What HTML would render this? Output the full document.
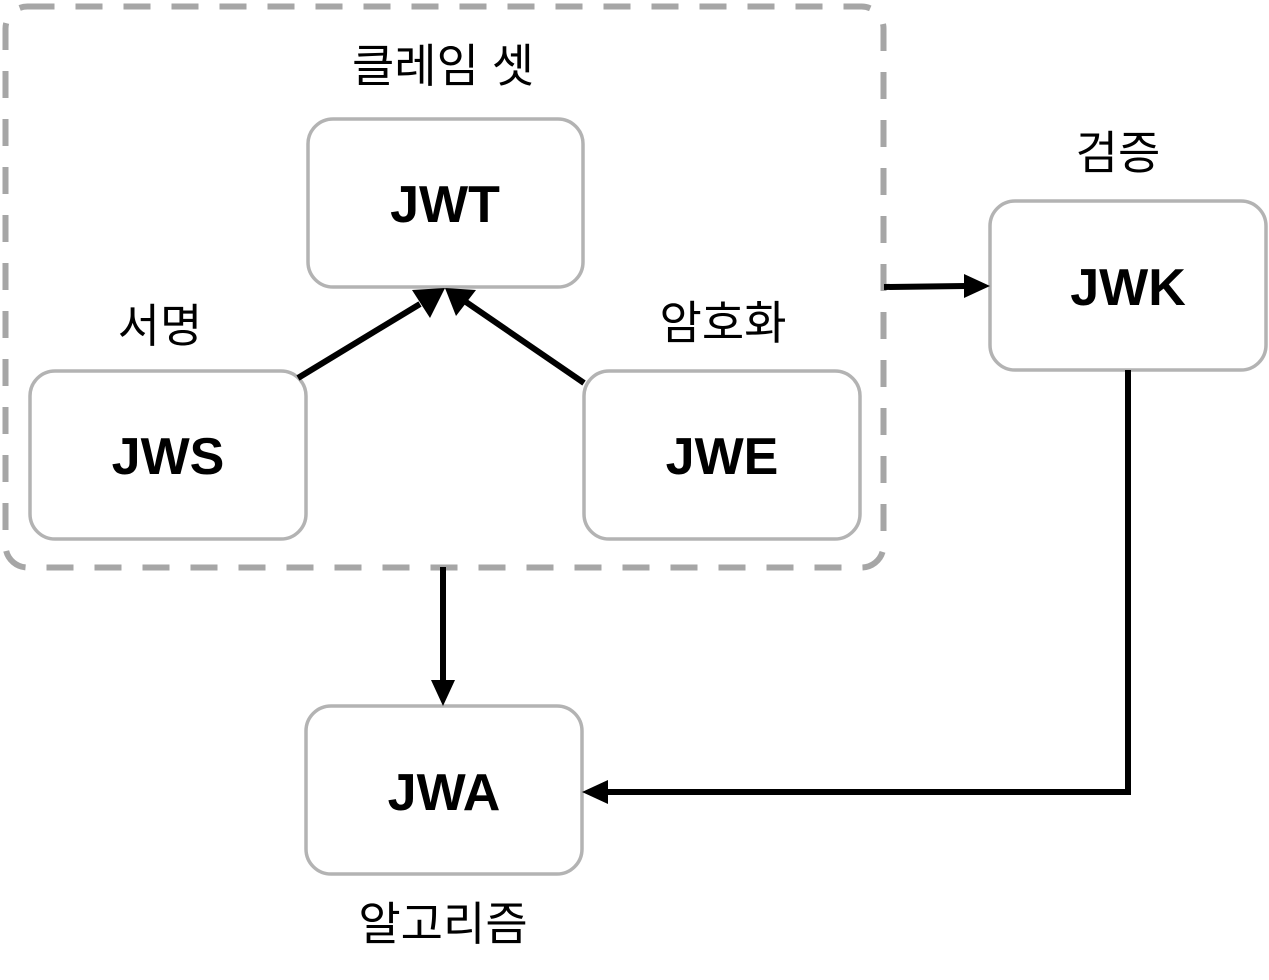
<!DOCTYPE html>
<html><head><meta charset="utf-8"><style>
html,body{margin:0;padding:0;background:#fff;}
svg{display:block;}
.b{font-family:"Liberation Sans","Noto Sans CJK KR",sans-serif;font-weight:bold;font-size:52px;fill:#000;text-anchor:middle;}
.k{font-family:"Liberation Sans","Noto Sans CJK KR",sans-serif;font-size:46px;fill:#000;text-anchor:middle;}
</style></head><body>
<svg width="1269" height="980" viewBox="0 0 1269 980" xmlns="http://www.w3.org/2000/svg">
<rect x="5.5" y="6.5" width="878" height="561" rx="22" fill="none" stroke="#a6a6a6" stroke-width="6" stroke-dasharray="27 21"/>
<g fill="#fff" stroke="#b3b3b3" stroke-width="3.5">
<rect x="308" y="119" width="275" height="168" rx="25"/>
<rect x="30" y="371" width="276" height="168" rx="25"/>
<rect x="584" y="371" width="276" height="168" rx="25"/>
<rect x="990" y="201" width="276" height="169" rx="25"/>
<rect x="306" y="706" width="276" height="168" rx="25"/>
</g>
<g stroke="#000" stroke-width="6" fill="none">
<line x1="298" y1="378" x2="420" y2="304"/>
<line x1="584" y1="383" x2="466" y2="302"/>
<line x1="884" y1="287" x2="966" y2="286"/>
<line x1="443" y1="567" x2="443" y2="682"/>
<polyline points="1128,370 1128,792 606,792"/>
</g>
<g fill="#000">
<polygon points="445,288 430,318 412,290"/>
<polygon points="445,288 476,290 456,316"/>
<polygon points="990,286 964,274 964,298"/>
<polygon points="443,706 431,680 455,680"/>
<polygon points="582,792 608,780 608,804"/>
</g>
<text class="b" x="445" y="222">JWT</text>
<text class="b" x="168" y="474">JWS</text>
<text class="b" x="722" y="474">JWE</text>
<text class="b" x="1128" y="305">JWK</text>
<text class="b" x="444" y="810">JWA</text>
<text class="k" x="443" y="82">클레임 셋</text>
<text class="k" x="160" y="342">서명</text>
<text class="k" x="723" y="339">암호화</text>
<text class="k" x="1118" y="169">검증</text>
<text class="k" x="443" y="940">알고리즘</text>
</svg>
</body></html>
